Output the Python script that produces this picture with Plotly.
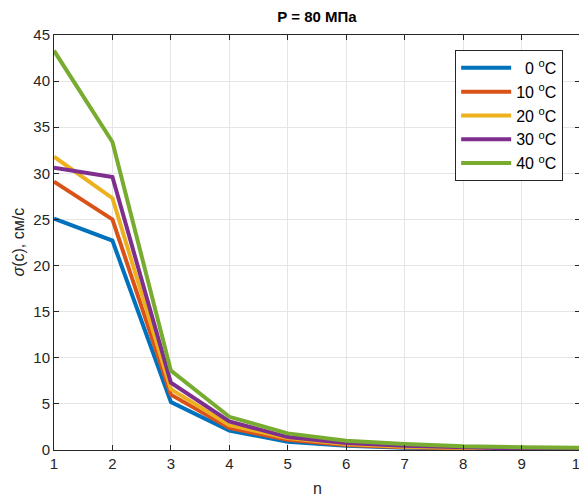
import plotly.graph_objects as go

n = [1, 2, 3, 4, 5, 6, 7, 8, 9, 10]
s0 = [25.1, 22.7, 5.2, 2.1, 0.9, 0.45, 0.25, 0.12, 0.07, 0.04]
s10 = [29.1, 25.0, 6.0, 2.4, 1.1, 0.55, 0.3, 0.15, 0.09, 0.05]
s20 = [31.8, 27.3, 6.6, 2.7, 1.3, 0.65, 0.35, 0.2, 0.12, 0.07]
s30 = [30.6, 29.6, 7.3, 3.1, 1.4, 0.75, 0.45, 0.25, 0.15, 0.1]
s40 = [43.3, 33.4, 8.6, 3.6, 1.8, 1.0, 0.65, 0.4, 0.3, 0.25]
names = ["  0 <sup>o</sup>C", "10 <sup>o</sup>C", "20 <sup>o</sup>C", "30 <sup>o</sup>C", "40 <sup>o</sup>C"]
colors = ["#0072BD", "#D95319", "#EDB120", "#7E2F8E", "#77AC30"]

fig = go.Figure()
for ys, nm, c in zip([s0, s10, s20, s30, s40], names, colors):
    fig.add_trace(go.Scatter(x=n, y=ys, mode="lines", name=nm,
                             line=dict(color=c, width=4)))

axis_common = dict(showline=True, linecolor="#262626", linewidth=1, mirror="ticks",
                   ticks="inside", ticklen=5, tickcolor="#262626", automargin=False,
                   showgrid=True, gridcolor="#E5E5E5", gridwidth=1, zeroline=False,
                   ticklabeloverflow="allow",
                   tickfont=dict(size=15, color="#262626"))
fig.update_layout(
    width=587, height=491,
    margin=dict(l=46, r=15, t=27, b=49),
    paper_bgcolor="white", plot_bgcolor="white",
    font=dict(family="Liberation Sans, Arial, sans-serif", color="#262626"),
    title=dict(text="<b>P = 80 МПа</b>", x=(46 + 572) / 2 / 587, xanchor="center",
               y=1 - 9 / 491, yanchor="middle", font=dict(size=15, color="black")),
    xaxis=dict(range=[1, 10], dtick=1, **axis_common),
    yaxis=dict(range=[0, 45], dtick=5, **axis_common),
    legend=dict(x=0.968, y=0.964, xanchor="right", yanchor="top",
                bordercolor="#262626", borderwidth=1, bgcolor="white",
                font=dict(size=16, color="black"), itemwidth=50, tracegroupgap=0),
    showlegend=True,
    annotations=[
        dict(text="n", xref="paper", yref="paper", x=0.5, y=-38 / 415, xanchor="center",
             yanchor="middle", showarrow=False, font=dict(size=16, color="#262626")),
        dict(text="<i>σ</i>(c), см/с", xref="paper", yref="paper", x=-36 / 526, y=0.5,
             xanchor="center", yanchor="middle", textangle=-90, showarrow=False,
             font=dict(size=16, color="#262626")),
    ],
)
fig.write_html("out.html")
